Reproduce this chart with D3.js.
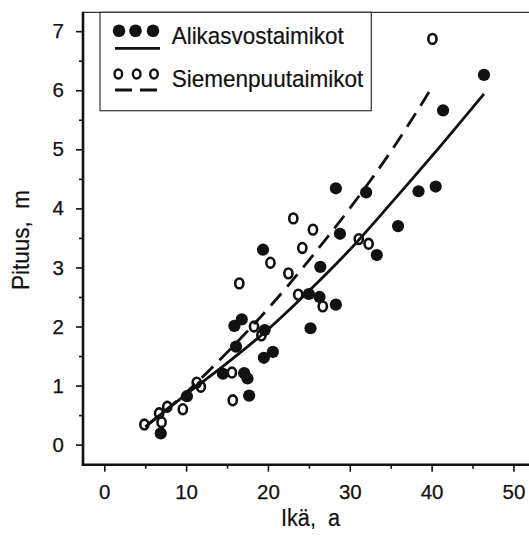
<!DOCTYPE html>
<html><head><meta charset="utf-8">
<script src="https://cdn.jsdelivr.net/npm/d3@7"></script>
<style>
html,body{margin:0;padding:0;background:#fff;}
svg{display:block;font-family:"Liberation Sans",Arial,sans-serif;}
</style></head>
<body>
<svg id="chart" width="529" height="538"></svg>
<script>
// ---- data ----
const seriesNames = ["Alikasvostaimikot", "Siemenpuutaimikot"];
const xTickValues = [0, 10, 20, 30, 40, 50];
const yTickValues = [0, 1, 2, 3, 4, 5, 6, 7];
const xTitle = "Ikä,  a";
const yTitle = "Pituus,  m";

// Alikasvostaimikot (filled dots): [age, height]
const filledAge =    [6.9, 10.1, 14.5, 17.1, 17.5, 17.7, 15.9, 16.8, 16.1, 19.5, 20.6, 19.6, 19.4, 25.0, 26.3, 28.3, 25.2, 26.4, 28.8, 28.3, 32.0, 33.3, 35.9, 38.4, 40.5, 41.4, 46.4];
const filledHeight = [0.19, 0.82, 1.20, 1.21, 1.12, 0.83, 2.01, 2.12, 1.66, 1.47, 1.57, 1.94, 3.30, 2.55, 2.50, 2.37, 1.97, 3.01, 3.57, 4.34, 4.27, 3.21, 3.70, 4.29, 4.37, 5.66, 6.26];

// Siemenpuutaimikot (open circles)
const openAge =    [4.9, 6.7, 7.0, 7.7, 9.6, 11.3, 11.8, 15.6, 15.7, 16.5, 18.3, 19.2, 20.3, 22.5, 23.1, 23.7, 24.2, 25.5, 26.7, 31.1, 32.3, 40.1];
const openHeight = [0.34, 0.53, 0.38, 0.64, 0.60, 1.05, 0.98, 1.22, 0.75, 2.73, 2.00, 1.85, 3.08, 2.90, 3.83, 2.54, 3.33, 3.64, 2.34, 3.48, 3.40, 6.87];

// fitted curves
const solidAge =    [5.5, 10, 15, 20, 25, 30, 35, 40, 46.4];
const solidHeight = [0.36, 0.85, 1.38, 1.95, 2.60, 3.30, 4.08, 4.88, 5.94];
const dashAge =     [5, 10, 15, 20, 25, 30, 35, 40];
const dashHeight =  [0.30, 0.88, 1.56, 2.30, 3.12, 4.00, 4.96, 6.04];

// ---- chart ----
const svg = d3.select("#chart");
const L = 83, R = 529, T = 12.3, B = 464.7;
const x = d3.scaleLinear().domain([-2.6, 51.9]).range([L, R]);
const y = d3.scaleLinear().domain([-0.34, 7.32]).range([B, T]);
const ink = "#111";

// axes
const gx = svg.append("g").attr("transform", `translate(0,${B})`)
  .call(d3.axisBottom(x).tickValues(xTickValues).tickSize(7).tickSizeOuter(0).tickPadding(13).tickFormat(d3.format("d")));
const gxm = svg.append("g").attr("transform", `translate(0,${B})`)
  .call(d3.axisBottom(x).tickValues(xTickValues.slice(0, -1).map(v => v + 5)).tickSize(4).tickSizeOuter(0).tickFormat(""));
const gy = svg.append("g").attr("transform", `translate(${L},0)`)
  .call(d3.axisLeft(y).tickValues(yTickValues).tickSize(7).tickSizeOuter(0).tickPadding(12).tickFormat(d3.format("d")));
const gym = svg.append("g").attr("transform", `translate(${L},0)`)
  .call(d3.axisLeft(y).tickValues(yTickValues.slice(0, -1).map(v => v + 0.5)).tickSize(4).tickSizeOuter(0).tickFormat(""));
[gx, gxm, gy, gym].forEach(g => {
  g.select(".domain").remove();
  g.selectAll("line").attr("stroke", ink).attr("stroke-width", 1.6);
  g.selectAll("text").attr("fill", ink).attr("stroke", ink).attr("stroke-width", 0.25)
    .style("font-size", "20.5px").style("font-family", "'Liberation Sans',Arial,sans-serif");
});

// frame
svg.append("line").attr("x1", L).attr("x2", R + 2).attr("y1", T).attr("y2", T).attr("stroke", "#333").attr("stroke-width", 1.3);
svg.append("line").attr("x1", L).attr("x2", L).attr("y1", T - 0.6).attr("y2", B + 1.2).attr("stroke", ink).attr("stroke-width", 2.6);
svg.append("line").attr("x1", L - 1.2).attr("x2", R + 2).attr("y1", B).attr("y2", B).attr("stroke", ink).attr("stroke-width", 2.6);

// titles
svg.append("text").attr("x", 310.5).attr("y", 526).attr("text-anchor", "middle")
  .attr("textLength", 59).attr("lengthAdjust", "spacingAndGlyphs")
  .style("font-size", "23px").style("white-space", "pre").attr("fill", ink).attr("stroke", ink).attr("stroke-width", 0.2).text(xTitle);
svg.append("text").attr("transform", "translate(28.5,240) rotate(-90)").attr("text-anchor", "middle")
  .attr("textLength", 100).attr("lengthAdjust", "spacingAndGlyphs")
  .style("font-size", "24px").style("white-space", "pre").attr("fill", ink).attr("stroke", ink).attr("stroke-width", 0.2).text(yTitle);

// curves
const lineGen = d3.line().x(d => x(d[0])).y(d => y(d[1])).curve(d3.curveMonotoneX);
svg.append("path").datum(solidAge.map((a, i) => [a, solidHeight[i]]))
  .attr("d", lineGen).attr("fill", "none").attr("stroke", ink).attr("stroke-width", 2.8);
svg.append("path").datum(dashAge.map((a, i) => [a, dashHeight[i]]))
  .attr("d", lineGen).attr("fill", "none").attr("stroke", ink).attr("stroke-width", 2.8)
  .attr("stroke-dasharray", "16,9");

// points
svg.append("g").selectAll("circle").data(filledAge.map((a, i) => [a, filledHeight[i]])).join("circle")
  .attr("cx", d => x(d[0])).attr("cy", d => y(d[1])).attr("r", 6.1).attr("fill", ink);
svg.append("g").selectAll("ellipse").data(openAge.map((a, i) => [a, openHeight[i]])).join("ellipse")
  .attr("cx", d => x(d[0])).attr("cy", d => y(d[1])).attr("rx", 4.1).attr("ry", 4.9)
  .attr("fill", "none").attr("stroke", ink).attr("stroke-width", 2.6);

// legend
const lg = svg.append("g");
lg.append("rect").attr("x", 100).attr("y", T).attr("width", 271.3).attr("height", 98.4)
  .attr("fill", "#fff").attr("stroke", "#333").attr("stroke-width", 1.2);
[119, 135.5, 153].forEach(cx => lg.append("circle").attr("cx", cx).attr("cy", 30.7).attr("r", 6.3).attr("fill", ink));
lg.append("line").attr("x1", 115).attr("x2", 160).attr("y1", 48.3).attr("y2", 48.3).attr("stroke", ink).attr("stroke-width", 2.8);
[118.3, 136.7, 154].forEach(cx => lg.append("ellipse").attr("cx", cx).attr("cy", 74).attr("rx", 3.8).attr("ry", 4.5)
  .attr("fill", "none").attr("stroke", ink).attr("stroke-width", 2.4));
lg.append("line").attr("x1", 115).attr("x2", 157).attr("y1", 90).attr("y2", 90).attr("stroke", ink).attr("stroke-width", 2.8)
  .attr("stroke-dasharray", "17,8");
lg.append("text").attr("x", 171.7).attr("y", 44.3).attr("textLength", 172).attr("lengthAdjust", "spacingAndGlyphs")
  .style("font-size", "24px").attr("fill", ink).attr("stroke", ink).attr("stroke-width", 0.2).text(seriesNames[0]);
lg.append("text").attr("x", 171.7).attr("y", 87.3).attr("textLength", 191.6).attr("lengthAdjust", "spacingAndGlyphs")
  .style("font-size", "24px").attr("fill", ink).attr("stroke", ink).attr("stroke-width", 0.2).text(seriesNames[1]);
</script>
</body></html>
